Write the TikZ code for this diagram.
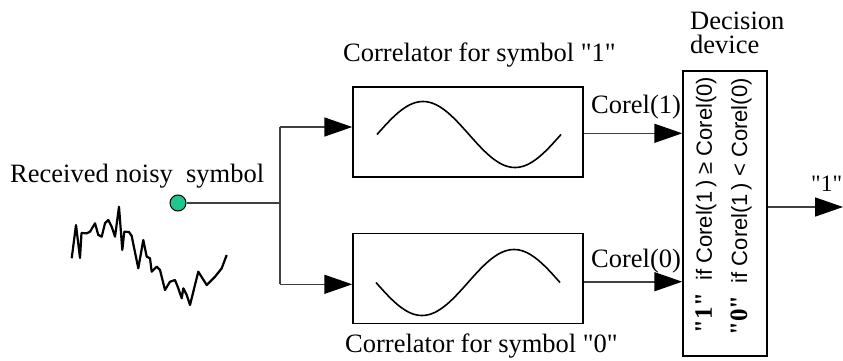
\documentclass[tikz,border=0pt]{standalone}
\usepackage{fontspec}
\setmainfont{Liberation Serif}
\setsansfont{Liberation Sans}
\usetikzlibrary{arrows.meta,calc}
\definecolor{dotgreen}{RGB}{30,200,140}
\newcommand{\dq}{\textquotedbl}
\begin{document}
\begin{tikzpicture}[x=1pt,y=-1pt,
  lbl/.style={font=\fontsize{26.5}{29}\selectfont, inner sep=0pt, anchor=base west},
  rule/.style={rotate=90, inner sep=0pt, font=\sffamily\fontsize{22}{24}\selectfont},
  corbox/.style={draw, line width=1.5pt, minimum width=230pt, minimum height=90pt, inner sep=0pt},
  wire/.style={line width=1.6pt, draw=black!75},
  arr/.style={wire, -{Triangle[length=28pt,width=19pt,color=black]}},
  wave/.style={line width=1.6pt, line join=round}
]
\useasboundingbox (0,0) rectangle (843,361);

% correlator blocks and decision block
\node[corbox] (c1) at (468,132) {};
\node[corbox] (c0) at (468,278.3) {};
\node[draw, line width=1.5pt, minimum width=84pt, minimum height=285pt, inner sep=0pt] (dec) at (725,213.5) {};

% reference waveforms
\draw[wave] plot[domain=0:360, samples=73, smooth] ({377+\x*0.5111},{134.5-33*sin(\x)});
\draw[wave] plot[domain=0:360, samples=73, smooth] ({376+\x*0.5111},{282.5+33*sin(\x)});

% labels
\node[lbl] (rx) at (10,182) {Received noisy\ \ symbol};
\node[lbl] (l1) at (343,62) {Correlator for symbol \dq1\dq};
\node[lbl] (l0) at (345,352) {Correlator for symbol \dq0\dq};
\node[lbl] (k1) at (591,113) {Corel(1)};
\node[lbl] (k0) at (591,267) {Corel(0)};
\node[lbl] (dd1) at (690,30) {Decision};
\node[lbl] (dd2) at (690,54) {device};
\node[lbl, font=\fontsize{23.5}{26}\selectfont] (o1) at (811,191) {\dq1\dq};

% decision rules, written along the block
\node[rule] (r1) at (706,205)
  {{\rmfamily\bfseries\fontsize{25}{27}\selectfont \dq1\dq}\ \ if Corel(1\,) ≥ Corel(0)};
\node[rule] (r0) at (741,207)
  {{\rmfamily\bfseries\fontsize{25}{27}\selectfont \dq0\dq}\ \ if Corel(1\,) < Corel(0)};

% noisy received signal
\draw[wave, line width=2.2pt] (71.7,258.3) -- (76,225) -- (80,258) -- (81.5,233) -- (86.7,233.3)
  -- (90,231.7) -- (95,223.3) -- (98.3,235) -- (101.7,236.7) -- (105,223.3) -- (108.3,220)
  -- (111.7,226.7) -- (115,236.7) -- (119,206.7) -- (122.3,250) -- (124.3,231.7) -- (129,232)
  -- (131.7,236) -- (133.5,245) -- (138.3,268.3) -- (143.3,240) -- (146.7,256.7) -- (150,258.3)
  -- (151.7,271.7) -- (156.7,266.7) -- (160,270) -- (165,290) -- (170,281.7) -- (175,280)
  -- (178.3,288.3) -- (181.7,298.3) -- (183.3,288.3) -- (186.7,295) -- (190,305) -- (198.3,271.7)
  -- (206.7,285) -- (215,276.7) -- (221.7,268.3) -- (226.7,255);

% input point and splitting wires
\node[circle, draw, line width=1pt, fill=dotgreen, minimum size=16pt, inner sep=0pt] (in) at (178,203) {};
\coordinate (j) at (280,203);
\coordinate (jt) at (280,127);
\coordinate (jb) at (280,284.3);
\coordinate (c1in) at (c1.west |- 0,127);
\coordinate (c0in) at (c0.west |- 0,284.3);
\draw[wire] (in) -- (j);
\draw[wire] (jt) -- (jb);
\draw[arr] (jt) -- (c1in);
\draw[arr] (jb) -- (c0in);

% correlator outputs into the decision block
\coordinate (c1out) at (c1.east |- 0,133.3);
\coordinate (c0out) at (c0.east |- 0,281.7);
\draw[arr] (c1out) -- (dec.west |- c1out);
\draw[arr] (c0out) -- (dec.west |- c0out);

% decision output
\coordinate (out) at (843,207);
\draw[arr] (dec.east |- out) -- (out);
\end{tikzpicture}
\end{document}
